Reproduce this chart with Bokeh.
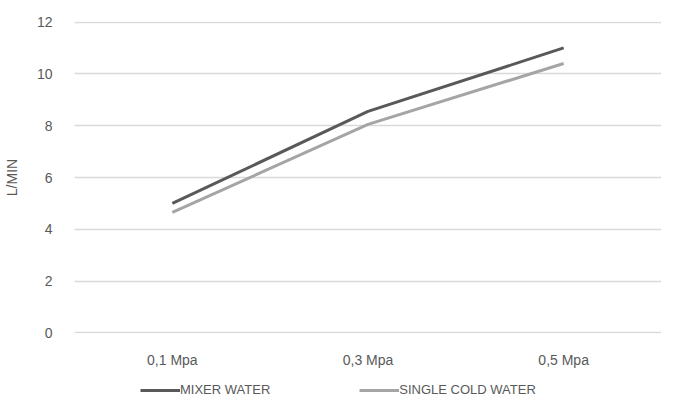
from bokeh.plotting import figure
from bokeh.models import Legend, LegendItem, FactorRange, Range1d
from bokeh.layouts import column
from bokeh.embed import file_html
from bokeh.resources import INLINE

categories = ["0,1 Mpa", "0,3 Mpa", "0,5 Mpa"]
mixer_water = [5.0, 8.55, 11.0]
single_cold_water = [4.65, 8.05, 10.4]
y_ticks = [0, 2, 4, 6, 8, 10, 12]

MIXER_COLOR = "#595959"
SINGLE_COLOR = "#a5a5a5"

p = figure(width=661, height=370, output_backend="svg", toolbar_location=None,
           x_range=FactorRange(factors=categories, range_padding=0),
           y_range=Range1d(-0.02, 12.02))
p.min_border_left = 73
p.min_border_right = 0
p.min_border_top = 21
p.min_border_bottom = 35
p.outline_line_color = None

p.line(categories, mixer_water, line_color=MIXER_COLOR, line_width=3)
p.line(categories, single_cold_water, line_color=SINGLE_COLOR, line_width=3)

p.yaxis.ticker = y_ticks
p.yaxis.axis_label = "L/MIN"
p.yaxis.axis_label_text_font = "Liberation Sans"
p.yaxis.axis_label_text_font_style = "normal"
p.yaxis.axis_label_text_font_size = "14px"
p.yaxis.axis_label_text_color = "#595959"
p.yaxis.axis_label_standoff = 14

for ax in (p.xaxis, p.yaxis):
    ax.axis_line_color = None
    ax.major_tick_line_color = None
    ax.minor_tick_line_color = None
    ax.major_label_text_font = "Liberation Sans"
    ax.major_label_text_font_size = "14px"
    ax.major_label_text_color = "#595959"
p.yaxis.major_label_standoff = 16
p.xaxis.major_label_standoff = 12

p.xgrid.grid_line_color = None
p.ygrid.grid_line_color = "#d9d9d9"
p.ygrid.grid_line_width = 1.5

# legend strip: same series drawn outside its visible range, only the legend shows
lg = figure(width=661, height=28, output_backend="svg", toolbar_location=None,
            x_range=FactorRange(factors=categories, range_padding=0),
            y_range=Range1d(100, 101),
            x_axis_location=None, y_axis_location=None)
lg.min_border_left = 0
lg.min_border_right = 0
lg.min_border_top = 0
lg.min_border_bottom = 0
lg.outline_line_color = None
lg.grid.grid_line_color = None
l1 = lg.line(categories, mixer_water, line_color=MIXER_COLOR, line_width=3)
l2 = lg.line(categories, single_cold_water, line_color=SINGLE_COLOR, line_width=3)

legend = Legend(items=[LegendItem(label="MIXER WATER", renderers=[l1]),
                       LegendItem(label="SINGLE COLD WATER", renderers=[l2])],
                orientation="horizontal", location=(66, 1),
                glyph_width=40, glyph_height=14, label_standoff=0, spacing=89,
                padding=0, margin=0, border_line_color=None,
                background_fill_alpha=0,
                label_text_font="Liberation Sans", label_text_font_size="13px",
                label_text_color="#595959")
lg.add_layout(legend, "center")

layout = column(p, lg, spacing=0)
open("out.html", "w").write(file_html(layout, INLINE))
